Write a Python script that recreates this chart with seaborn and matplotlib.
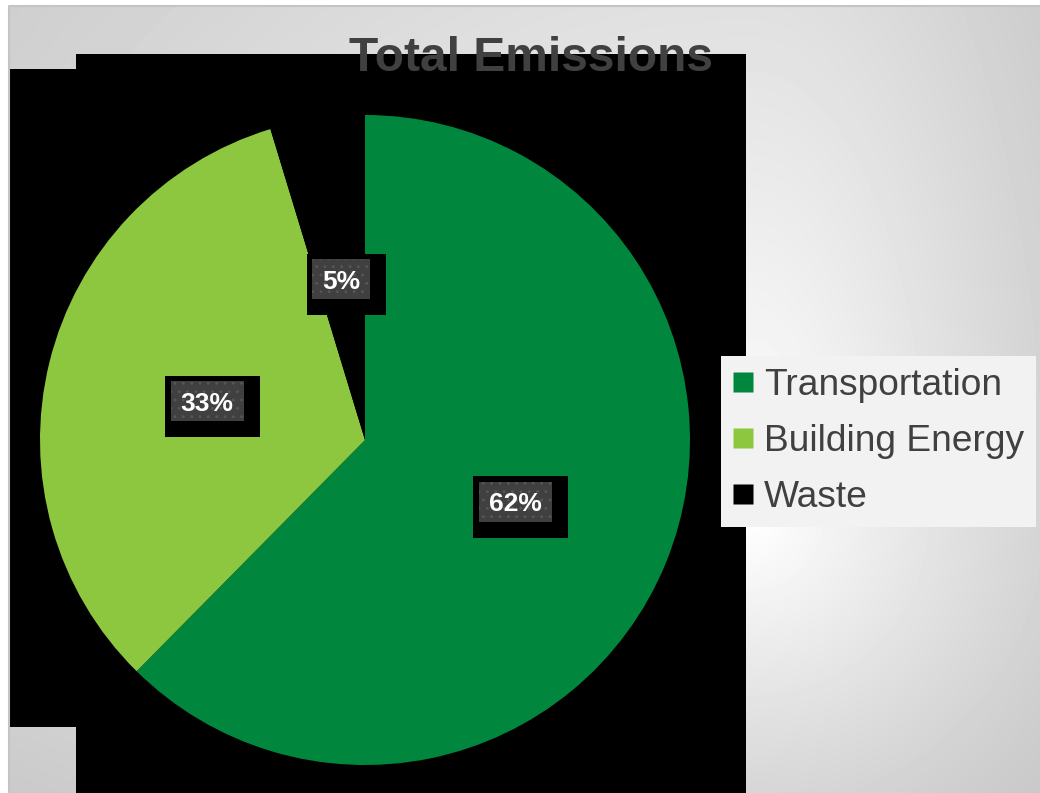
import numpy as np
import matplotlib
matplotlib.use("Agg")
import matplotlib.pyplot as plt
import matplotlib.transforms as mtransforms
from matplotlib.patches import Rectangle
from matplotlib.lines import Line2D
import seaborn as sns

# data
categories = ["Transportation", "Building Energy", "Waste"]
shares = [62.4, 32.9, 4.7]
colors = ["#00873d", "#8dc63f", "#000000"]
title = "Total Emissions"

sns.set_style("white")
plt.rcParams['font.family'] = ['Liberation Sans', 'DejaVu Sans']
plt.rcParams['hatch.linewidth'] = 0.8

W, H = 1040, 793
fig = plt.figure(figsize=(W / 100, H / 100), dpi=100, facecolor="white")

# slide background (grey gradient) + the black blocks behind the pie
bg = fig.add_axes([0, 0, 1, 1])
yy, xx = np.mgrid[6:H, 9:W] + 0.5
dx = xx - 750
dy = yy - 520
sx = np.where(dx > 0, 6.6, 18.0)
sy = np.where(dy > 0, 6.5, 16.6)
d = np.hypot(dx / sx, dy / sy)
drop = d / (1 + (d / 70) ** 4) ** 0.25  # soft cap
bg.imshow((255 - drop) / 255, cmap="gray", vmin=0, vmax=1,
          extent=(9, W, H, 6), aspect="auto", interpolation="bilinear")
bg.set_xlim(0, W)
bg.set_ylim(H, 0)
bg.axis("off")
bg.plot([8.5, 8.5, W], [H, 5.5, 5.5], color="#c4c4c4", lw=1.5)
bg.add_patch(Rectangle((76, 54), 670, H - 54, fc="black", ec="none"))
bg.add_patch(Rectangle((10, 69), 66, 658, fc="black", ec="none"))
bg.text(531, 71, title, ha="center", va="baseline", fontsize=34.5,
        fontweight="bold", color="#404040", zorder=5)

# pie
cx, cy, R = 365, 440, 325
ax = fig.add_axes([(cx - R) / W, (H - cy - R) / H, 2 * R / W, 2 * R / H])
ax.patch.set_alpha(0)
wedges, _, autotexts = ax.pie(shares, colors=sns.color_palette(colors),
                              startangle=90, counterclock=False,
                              autopct=lambda p: f"{p:.0f}%", pctdistance=0.5,
                              wedgeprops=dict(linewidth=0))
ax.set_xlim(-1, 1)
ax.set_ylim(-1, 1)

for t in autotexts:
    t.set(color="white", fontsize=19, fontweight="bold", va="baseline", zorder=6)
    t.set_transform(mtransforms.offset_copy(ax.transData, fig=fig, y=-9.5, units="dots"))

fig.canvas.draw()
rend = fig.canvas.get_renderer()
ident = mtransforms.IdentityTransform()
for t in autotexts:
    x0, y0 = ax.transData.transform(t.get_position())
    w = t.get_window_extent(rend).width + 20
    h = 40
    ax.add_patch(Rectangle((x0 - w / 2 - 5.5, y0 - h / 2 - 16), w + 21.5, h + 21.5,
                           fc="black", ec="none", transform=ident, zorder=3, clip_on=False))
    ax.add_patch(Rectangle((x0 - w / 2, y0 - h / 2), w, h, fc="#404040", ec="#575757",
                           lw=0, hatch="..", transform=ident, zorder=4, clip_on=False))

# legend
handles = [Line2D([], [], ls="none", marker="s", ms=13.9, mfc=c, mec="none") for c in colors]
fig.legend(handles, categories, loc="upper left", bbox_to_anchor=(721 / W, 1 - 356 / H),
           frameon=True, fancybox=False, facecolor="#f2f2f2", edgecolor="none",
           framealpha=1, fontsize=26.7, labelcolor="#404040", handlelength=0.55,
           handletextpad=0.27, labelspacing=0.56, borderpad=0.33, borderaxespad=0)

fig.savefig("out.png", dpi=100, facecolor="white")
